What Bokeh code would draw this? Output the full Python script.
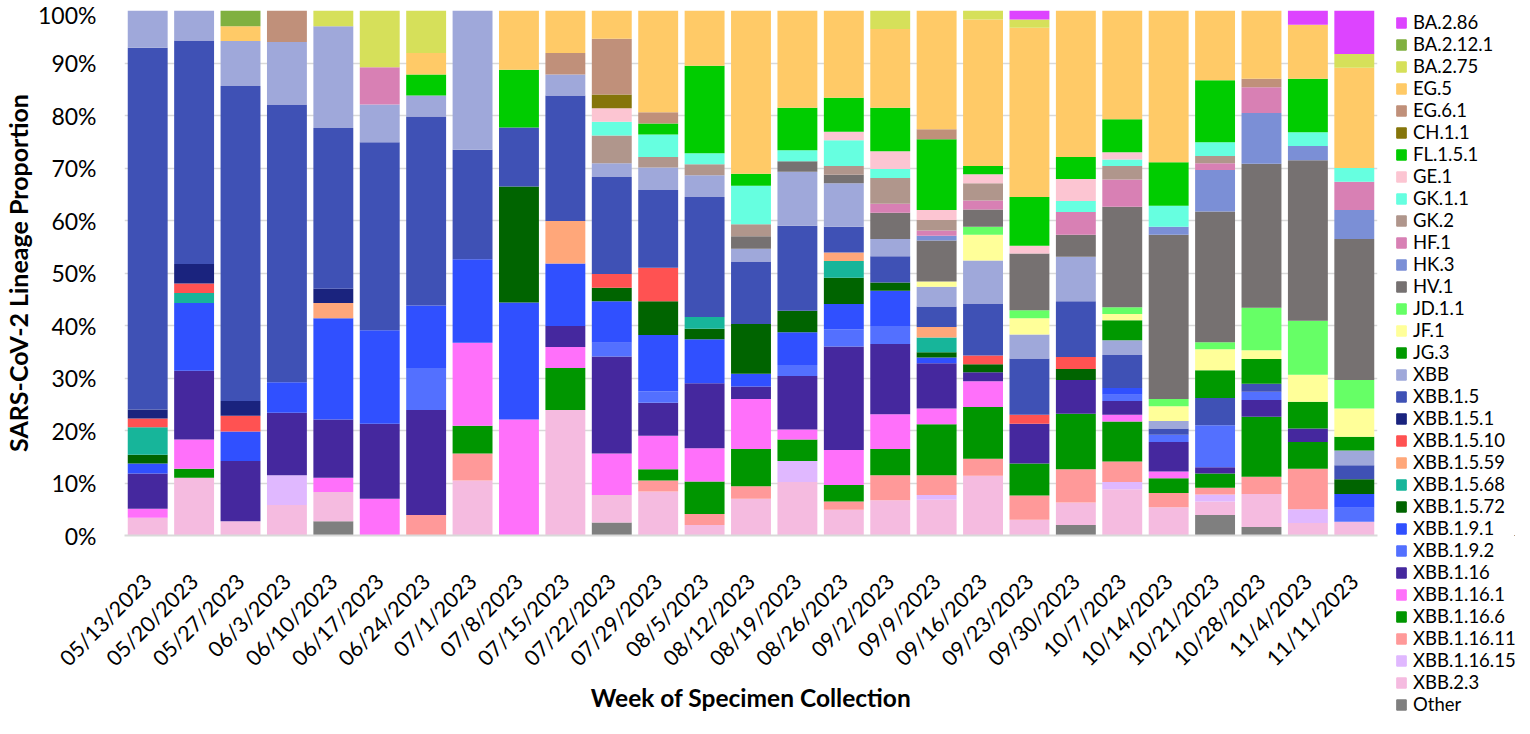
from bokeh.plotting import figure
from bokeh.models import FactorRange, Legend, LegendItem, PrintfTickFormatter, ColumnDataSource, Range1d
from bokeh.layouts import row
from bokeh.embed import file_html
from bokeh.resources import INLINE
import math

weeks = ["05/13/2023","05/20/2023","05/27/2023","06/3/2023","06/10/2023","06/17/2023","06/24/2023",
         "07/1/2023","07/8/2023","07/15/2023","07/22/2023","07/29/2023","08/5/2023","08/12/2023",
         "08/19/2023","08/26/2023","09/2/2023","09/9/2023","09/16/2023","09/23/2023","09/30/2023",
         "10/7/2023","10/14/2023","10/21/2023","10/28/2023","11/4/2023","11/11/2023"]

other      = [0,0,0,0,2.7,0,0,0,0,0,2.5,0,0,0,0,0,0,0,0,0,2.0,0,0,3.9,1.6,0,0]
xbb_2_3    = [3.4,11.0,2.7,5.8,5.6,0,0,10.5,0,23.9,5.2,8.4,2.0,7.0,10.2,4.9,6.7,6.8,11.4,3.0,4.3,8.8,5.4,2.6,6.3,2.4,2.6]
xbb_1_16_15 = [0,0,0,5.7,0,0,0,0,0,0,0,0,0,0,4.0,0,0,0.9,0,0,0,1.4,0,1.3,0,2.6,0]
xbb_1_16_11 = [0,0,0,0,0,0,3.9,5.1,0,0,0,2.1,2.1,2.4,0,1.6,4.8,3.8,3.2,4.6,6.3,3.9,2.7,1.3,3.3,7.7,0]
xbb_1_16_6 = [0,1.7,0,0,0,0,0,5.3,0,8.0,0,2.1,6.2,7.1,4.1,3.1,5.0,9.7,9.9,6.1,10.6,7.6,2.8,2.7,11.4,5.1,0]
xbb_1_16_1 = [1.7,5.6,0,0,2.7,7.0,0,15.8,22.1,4.0,7.9,6.4,6.3,9.5,1.9,6.7,6.6,3.0,4.9,0,0,1.3,1.3,0,0,0,0]
xbb_1_16   = [6.7,13.1,11.5,11.9,11.1,14.3,20.0,0,0,4.0,18.5,6.3,12.4,2.4,10.2,19.7,13.4,8.6,1.7,7.6,6.4,2.6,5.6,1.2,3.2,2.6,0]
xbb_1_9_2  = [0,0,0,0,0,0,8.0,0,0,0,2.6,2.2,0,0,2.1,3.3,3.4,0,0,0,0,1.2,1.4,8.0,1.6,0,2.7]
xbb_1_9_1  = [1.9,12.9,5.6,5.8,19.3,17.8,11.9,15.9,22.3,11.9,7.9,10.7,8.4,2.4,6.2,4.8,6.7,1.1,0,0,0,1.3,0,0,0,0,2.6]
xbb_1_5_72 = [1.7,0,0,0,0,0,0,0,22.1,0,2.6,6.4,2.0,9.5,4.1,5.0,1.6,1.0,1.5,0,2.1,0,0,0,0,0,2.8]
xbb_1_5_68 = [5.2,1.9,0,0,0,0,0,0,0,0,0,0,2.2,0,0,3.2,0,2.8,0,0,0,0,0,0,0,0,0]
xbb_1_5_59 = [0,0,0,0,2.9,0,0,0,0,8.1,0,0,0,0,0,1.6,0,2.0,0,0,0,0,0,0,0,0,0]
xbb_1_5_10 = [1.7,1.8,3.0,0,0,0,0,0,0,0,2.6,6.4,0,0,0,0,0,0,1.7,1.7,2.3,0,0,0,0,0,0]
xbb_1_5_1  = [1.7,3.7,2.8,0,2.7,0,0,0,0,0,0,0,0,0,0,0,0,0,0,0,0,0,0,0,0,0,0]
xbb_1_5    = [68.9,42.6,60.0,52.9,30.6,35.8,36.0,20.9,11.2,23.9,18.5,14.8,22.9,11.9,16.2,4.9,5.0,3.9,9.9,10.7,10.6,6.3,1.2,5.2,1.5,0,2.7]
xbb        = [7.1,5.7,8.6,11.9,19.4,7.2,4.0,26.5,0,4.0,2.6,4.3,4.1,2.4,10.3,8.3,3.3,3.8,8.2,4.6,8.5,2.8,1.4,0,0,0,2.8]
jg_3       = [0,0,0,0,0,0,0,0,0,0,0,0,0,0,0,0,0,0,0,0,0,3.8,0,5.3,4.7,5.1,2.6]
jf_1       = [0,0,0,0,0,0,0,0,0,0,0,0,0,0,0,0,0,1.0,4.9,3.1,0,1.2,2.8,4.0,1.7,5.1,5.4]
jd_1_1     = [0,0,0,0,0,0,0,0,0,0,0,0,0,0,0,0,0,0,1.5,1.5,0,1.3,1.4,1.3,8.1,10.3,5.4]
hv_1       = [0,0,0,0,0,0,0,0,0,0,0,0,0,2.4,2.0,1.6,5.0,7.8,3.3,10.8,4.2,19.1,31.3,24.9,27.4,30.6,26.9]
hk_3       = [0,0,0,0,0,0,0,0,0,0,0,0,0,0,0,0,0,0.9,0,0,0,0,1.5,7.9,9.7,2.7,5.5]
hf_1       = [0,0,0,0,0,7.1,0,0,0,0,0,0,0,0,0,0,1.7,1.0,1.7,0,4.3,5.2,0,1.3,4.9,0,5.4]
gk_2       = [0,0,0,0,0,0,0,0,0,0,5.3,2.0,2.1,2.3,0,1.7,4.9,2.0,3.3,0,0,2.6,0,1.4,0,0,0]
gk_1_1     = [0,0,0,0,0,0,0,0,0,0,2.6,4.3,2.1,7.3,2.1,4.9,1.7,0,0,0,2.1,1.2,4.0,2.6,0,2.6,2.6]
ge_1       = [0,0,0,0,0,0,0,0,0,0,2.6,0,0,0,0,1.6,3.4,1.9,1.7,1.5,4.2,1.4,0,0,0,0,0]
fl_1_5_1   = [0,0,0,0,0,0,4.0,0,11.0,0,0,2.1,16.7,2.3,8.1,6.5,8.3,13.5,1.6,9.3,4.2,6.3,8.3,11.8,0,10.2,0]
ch_1_1     = [0,0,0,0,0,0,0,0,0,0,2.6,0,0,0,0,0,0,0,0,0,0,0,0,0,0,0,0]
eg_6_1     = [0,0,0,6.0,0,0,0,0,0,4.1,10.6,2.1,0,0,0,0,0,1.9,0,0,0,0,0,0,1.6,0,0]
eg_5       = [0,0,2.8,0,0,0,4.1,0,11.3,8.1,5.4,19.4,10.5,31.1,18.5,16.6,15.0,22.6,27.9,32.2,27.9,20.7,28.9,13.3,13.0,10.3,19.1]
ba_2_75    = [0,0,0,0,3.0,10.8,8.1,0,0,0,0,0,0,0,0,0,3.5,0,1.7,1.6,0,0,0,0,0,0,2.6]
ba_2_12_1  = [0,0,3.0,0,0,0,0,0,0,0,0,0,0,0,0,0,0,0,0,0,0,0,0,0,0,0,0]
ba_2_86    = [0,0,0,0,0,0,0,0,0,0,0,0,0,0,0,0,0,0,0,1.7,0,0,0,0,0,2.7,8.3]

# stack order bottom -> top
lineages = ["Other","XBB.2.3","XBB.1.16.15","XBB.1.16.11","XBB.1.16.6","XBB.1.16.1","XBB.1.16",
            "XBB.1.9.2","XBB.1.9.1","XBB.1.5.72","XBB.1.5.68","XBB.1.5.59","XBB.1.5.10","XBB.1.5.1",
            "XBB.1.5","XBB","JG.3","JF.1","JD.1.1","HV.1","HK.3","HF.1","GK.2","GK.1.1","GE.1",
            "FL.1.5.1","CH.1.1","EG.6.1","EG.5","BA.2.75","BA.2.12.1","BA.2.86"]
series = [other, xbb_2_3, xbb_1_16_15, xbb_1_16_11, xbb_1_16_6, xbb_1_16_1, xbb_1_16,
          xbb_1_9_2, xbb_1_9_1, xbb_1_5_72, xbb_1_5_68, xbb_1_5_59, xbb_1_5_10, xbb_1_5_1,
          xbb_1_5, xbb, jg_3, jf_1, jd_1_1, hv_1, hk_3, hf_1, gk_2, gk_1_1, ge_1,
          fl_1_5_1, ch_1_1, eg_6_1, eg_5, ba_2_75, ba_2_12_1, ba_2_86]
colors = ["#7F7F7F","#F5BBE0","#E0B8FF","#FF9999","#009600","#FF70FA","#45289E",
          "#5370FF","#3050FF","#006400","#17B59A","#FFA77A","#FF5252","#1A237E",
          "#3F51B5","#9FA8DA","#009900","#FFFF99","#66FF66","#767171","#7B8FD6","#D880B4","#B0968C","#66FFE0","#FCC5D2",
          "#00CC00","#85750A","#C0907A","#FFCA67","#D6E05A","#80B040","#DD44FF"]

data = {"week": weeks}
for name, vals in zip(lineages, series):
    data[name] = vals
source = ColumnDataSource(data)

FONT = "Lato"

p = figure(x_range=FactorRange(factors=weeks, range_padding=0), y_range=(0, 100),
           width=1381, height=718, output_backend="svg", toolbar_location=None,
           min_border_left=117, min_border_right=4, min_border_top=10, min_border_bottom=183)

renderers = p.vbar_stack(lineages, x="week", width=0.86, source=source, color=colors,
                         line_color=None)

p.outline_line_color = None
p.xgrid.grid_line_color = None
p.ygrid.grid_line_color = "#D9D9D9"
p.ygrid.grid_line_width = 1.5
p.ygrid.level = "underlay"

p.yaxis.ticker = list(range(0, 101, 10))
p.yaxis.formatter = PrintfTickFormatter(format="%d%%")
p.yaxis.axis_line_color = None
p.yaxis.major_tick_line_color = None
p.yaxis.minor_tick_line_color = None
p.yaxis.major_label_text_font = FONT
p.yaxis.major_label_text_font_size = "23px"
p.yaxis.major_label_text_color = "#000000"
p.yaxis.major_label_standoff = 22
p.yaxis.axis_label = "SARS-CoV-2 Lineage Proportion"
p.yaxis.axis_label_text_font = FONT
p.yaxis.axis_label_text_font_size = "25px"
p.yaxis.axis_label_text_font_style = "bold"
p.yaxis.axis_label_text_color = "#000000"
p.yaxis.axis_label_standoff = 2

p.xaxis.axis_line_color = "#D9D9D9"
p.xaxis.axis_line_width = 2
p.xaxis.major_tick_line_color = None
p.xaxis.minor_tick_line_color = None
p.xaxis.major_label_orientation = math.pi / 4
p.xaxis.major_label_text_font = FONT
p.xaxis.major_label_text_font_size = "21.5px"
p.xaxis.major_label_text_color = "#000000"
p.xaxis.major_label_standoff = 36
p.xaxis.axis_label = "Week of Specimen Collection"
p.xaxis.axis_label_text_font = FONT
p.xaxis.axis_label_text_font_size = "24.5px"
p.xaxis.axis_label_text_font_style = "bold"
p.xaxis.axis_label_text_color = "#000000"
p.xaxis.axis_label_standoff = 0

# legend panel (separate figure, same colours and names), legend in a side panel so it is not clipped
lg = figure(width=133, height=718, output_backend="svg", toolbar_location=None,
            x_range=Range1d(0, 1), y_range=Range1d(0, 1),
            x_axis_location=None, y_axis_location=None,
            min_border_left=0, min_border_right=0, min_border_top=10, min_border_bottom=183)
lg.outline_line_color = None
lg.grid.visible = False
swatches = []
for name, c in zip(lineages, colors):
    swatches.append(lg.vbar(x=[-5], top=[0], width=0.5, color=c))

items = [LegendItem(label=name, renderers=[r]) for name, r in zip(lineages, swatches)]
items.reverse()
legend = Legend(items=items, location=(14, -180), orientation="vertical",
                label_text_font=FONT, label_text_font_size="18.5px", label_text_color="#000000",
                glyph_width=12, glyph_height=13, label_height=22, spacing=0,
                label_standoff=6, padding=0, margin=0,
                border_line_color=None, background_fill_alpha=0)
lg.add_layout(legend, "left")

layout = row(p, lg, spacing=0)
open("out.html", "w").write(file_html(layout, INLINE))
